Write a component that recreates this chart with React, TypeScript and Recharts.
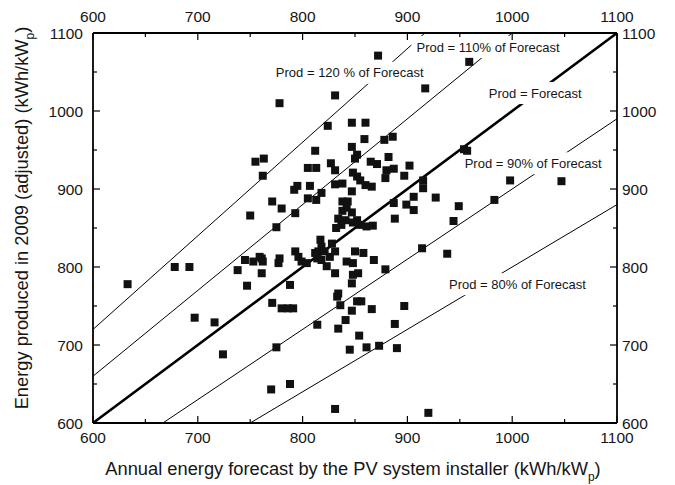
import React from "react"
import {
  ScatterChart,
  Scatter,
  XAxis,
  YAxis,
  ReferenceLine,
  ReferenceDot,
  Label,
} from "recharts"

// annual forecast by installer (kWh/kWp), one entry per system
const forecast = [
  633, 678, 692, 697, 716, 724, 738, 747, 745, 753, 761, 761, 778, 777, 775, 788, 771, 780, 786, 791, 775, 770, 788, 831, 920,
  778, 831, 824, 847, 860, 755, 763, 762, 812, 805, 813, 827, 831, 847, 852, 850, 795, 792, 807, 818, 831, 838, 805, 813, 771,
  780, 750, 793, 838, 843, 848, 859, 878, 886, 865, 871, 882, 880, 887, 902, 897, 879, 852, 855, 860, 866, 915, 915, 847, 887,
  899, 906, 906, 927, 888, 834, 837, 841, 852, 855, 861, 867, 872, 959, 917, 954, 957, 998, 1047, 983, 949, 944, 842, 847, 838,
  832, 848,
  817, 818, 815, 821, 828, 831, 826, 793, 796, 799, 804, 812, 814, 818, 823, 831, 850, 858, 842, 848, 868, 879, 914, 938, 759,
  762, 848, 853, 847, 834, 833, 836, 852, 856, 847, 866, 897, 814, 834, 841, 854, 888, 845, 861, 873, 890,
]

// energy produced in 2009, adjusted (kWh/kWp), same order
const produced = [
  778, 800, 800, 735, 729, 688, 796, 776, 809, 807, 811, 792, 811, 805, 851, 777, 754, 747, 747, 747, 697, 643, 650, 618, 613,
  1010, 1020, 981, 985, 985, 935, 939, 917, 949, 927, 927, 933, 924, 954, 944, 939, 904, 899, 904, 895, 906, 907, 888, 886, 884,
  875, 866, 869, 884, 884, 921, 964, 963, 967, 935, 932, 941, 924, 926, 930, 917, 914, 916, 911, 905, 903, 911, 901, 897, 882,
  880, 873, 890, 889, 862, 862, 854, 860, 860, 854, 852, 853, 1071, 1063, 1029, 951, 949, 911, 910, 886, 878, 859, 876, 870, 872,
  850, 857,
  835, 826, 820, 820, 830, 820, 813, 820, 813, 807, 805, 818, 811, 809, 801, 792, 820, 818, 807, 805, 809, 797, 824, 817, 813,
  807, 790, 792, 779, 766, 762, 751, 756, 756, 744, 746, 750, 726, 721, 732, 712, 727, 694, 697, 699, 696,
]

// production / forecast ratios of the guide lines
const ratios = [1.2, 1.1, 1.0, 0.9, 0.8]
const ratioLabels = [
  "Prod = 120 % of Forecast",
  "Prod = 110% of Forecast",
  "Prod = Forecast",
  "Prod = 90% of Forecast",
  "Prod = 80% of Forecast",
]
// where each guide label sits, in data units
const labelAnchorX = [845, 977, 1022, 1020, 1005]
const labelAnchorY = [1049, 1082, 1023, 933, 778]

const axisTicks = [600, 650, 700, 750, 800, 850, 900, 950, 1000, 1050, 1100]
const domainMin = 600
const domainMax = 1100

const FONT = "'Liberation Sans', Arial, sans-serif"
const INK = "#161616"

const points = forecast.map((x, i) => ({ x, y: produced[i] }))

function guideSegment(k: number) {
  let x1 = domainMin
  let y1 = k * x1
  if (y1 < domainMin) {
    y1 = domainMin
    x1 = domainMin / k
  }
  let x2 = domainMax
  let y2 = k * x2
  if (y2 > domainMax) {
    y2 = domainMax
    x2 = domainMax / k
  }
  return [
    { x: x1, y: y1 },
    { x: x2, y: y2 },
  ]
}

const isMajor = (v: number) => v % 100 === 0

function BottomTick({ x, y, payload }: any) {
  const v = payload.value
  return (
    <g>
      <line x1={x} y1={y} x2={x} y2={y - (isMajor(v) ? 7 : 4)} stroke="#000" strokeWidth={1.2} />
      {isMajor(v) && (
        <text x={x} y={y + 20} textAnchor="middle" fontSize={15.5} fill={INK} fontFamily={FONT}>
          {v}
        </text>
      )}
    </g>
  )
}

function TopTick({ x, y, payload }: any) {
  const v = payload.value
  return (
    <g>
      <line x1={x} y1={y} x2={x} y2={y + (isMajor(v) ? 7 : 4)} stroke="#000" strokeWidth={1.2} />
      {isMajor(v) && (
        <text x={x} y={y - 11} textAnchor="middle" fontSize={15.5} fill={INK} fontFamily={FONT}>
          {v}
        </text>
      )}
    </g>
  )
}

function LeftTick({ x, y, payload }: any) {
  const v = payload.value
  return (
    <g>
      <line x1={x} y1={y} x2={x + (isMajor(v) ? 7 : 4)} y2={y} stroke="#000" strokeWidth={1.2} />
      {isMajor(v) && (
        <text x={x - 10} y={y + 5.5} textAnchor="end" fontSize={15.5} fill={INK} fontFamily={FONT}>
          {v}
        </text>
      )}
    </g>
  )
}

function RightTick({ x, y, payload }: any) {
  const v = payload.value
  return (
    <g>
      <line x1={x} y1={y} x2={x - (isMajor(v) ? 7 : 4)} y2={y} stroke="#000" strokeWidth={1.2} />
      {isMajor(v) && (
        <text x={x + 5} y={y + 5.5} textAnchor="start" fontSize={15.5} fill={INK} fontFamily={FONT}>
          {v}
        </text>
      )}
    </g>
  )
}

function XTitle() {
  return (
    <text x={353} y={475} textAnchor="middle" fontSize={18.3} fill={INK} fontFamily={FONT}>
      Annual energy forecast by the PV system installer (kWh/kW
      <tspan fontSize={12} dy={6}>p</tspan>
      <tspan dy={-6}>)</tspan>
    </text>
  )
}

function YTitle() {
  return (
    <text
      x={0}
      y={0}
      transform="translate(28 218) rotate(-90)"
      textAnchor="middle"
      fontSize={18.3}
      fill={INK}
      fontFamily={FONT}
    >
      Energy produced in 2009 (adjusted) (kWh/kW
      <tspan fontSize={12} dy={6}>p</tspan>
      <tspan dy={-6}>)</tspan>
    </text>
  )
}

function GuideLabel({ cx, cy, text }: any) {
  const w = text.length * 6.5 + 4
  return (
    <g>
      <rect x={cx - w / 2} y={cy - 11} width={w} height={22} fill="#fff" />
      <text x={cx} y={cy + 4.5} textAnchor="middle" fontSize={13} fill={INK} fontFamily={FONT}>
        {text}
      </text>
    </g>
  )
}

export default function App() {
  return (
    <div style={{ position: "absolute", left: 0, top: 0, width: 675, height: 485, background: "#fff" }}>
      <ScatterChart width={675} height={485} margin={{ top: 13, right: 18, bottom: 22, left: 53 }}>
        <XAxis
          xAxisId="bottom"
          dataKey="x"
          type="number"
          orientation="bottom"
          domain={[domainMin, domainMax]}
          ticks={axisTicks}
          interval={0}
          height={40}
          tickSize={0}
          tickMargin={0}
          tickLine={false}
          tick={<BottomTick />}
          axisLine={{ stroke: "#000", strokeWidth: 1.8 }}
          allowDataOverflow
        >
          <Label content={<XTitle />} />
        </XAxis>
        <XAxis
          xAxisId="top"
          dataKey="x"
          type="number"
          orientation="top"
          domain={[domainMin, domainMax]}
          ticks={axisTicks}
          interval={0}
          height={20}
          tickSize={0}
          tickMargin={0}
          tickLine={false}
          tick={<TopTick />}
          axisLine={{ stroke: "#000", strokeWidth: 1.8 }}
          allowDataOverflow
        />
        <YAxis
          yAxisId="left"
          dataKey="y"
          type="number"
          orientation="left"
          domain={[domainMin, domainMax]}
          ticks={axisTicks}
          interval={0}
          width={40}
          tickSize={0}
          tickMargin={0}
          tickLine={false}
          tick={<LeftTick />}
          axisLine={{ stroke: "#000", strokeWidth: 1.8 }}
          allowDataOverflow
        >
          <Label content={<YTitle />} />
        </YAxis>
        <YAxis
          yAxisId="right"
          dataKey="y"
          type="number"
          orientation="right"
          domain={[domainMin, domainMax]}
          ticks={axisTicks}
          interval={0}
          width={40}
          tickSize={0}
          tickMargin={0}
          tickLine={false}
          tick={<RightTick />}
          axisLine={{ stroke: "#000", strokeWidth: 1.8 }}
          allowDataOverflow
        />
        {ratios.map((k) => (
          <ReferenceLine
            key={`line-${k}`}
            xAxisId="bottom"
            yAxisId="left"
            segment={guideSegment(k)}
            stroke="#000"
            strokeWidth={k === 1 ? 2.6 : 1}
            ifOverflow="visible"
          />
        ))}
        {ratioLabels.map((t, i) => (
          <ReferenceDot
            key={`label-${i}`}
            xAxisId="bottom"
            yAxisId="left"
            x={labelAnchorX[i]}
            y={labelAnchorY[i]}
            r={1}
            ifOverflow="visible"
            shape={(p: any) => <GuideLabel cx={p.cx} cy={p.cy} text={t} />}
          />
        ))}
        <Scatter
          xAxisId="bottom"
          yAxisId="left"
          data={points}
          shape="square"
          fill="#111"
          isAnimationActive={false}
        />
      </ScatterChart>
    </div>
  )
}
